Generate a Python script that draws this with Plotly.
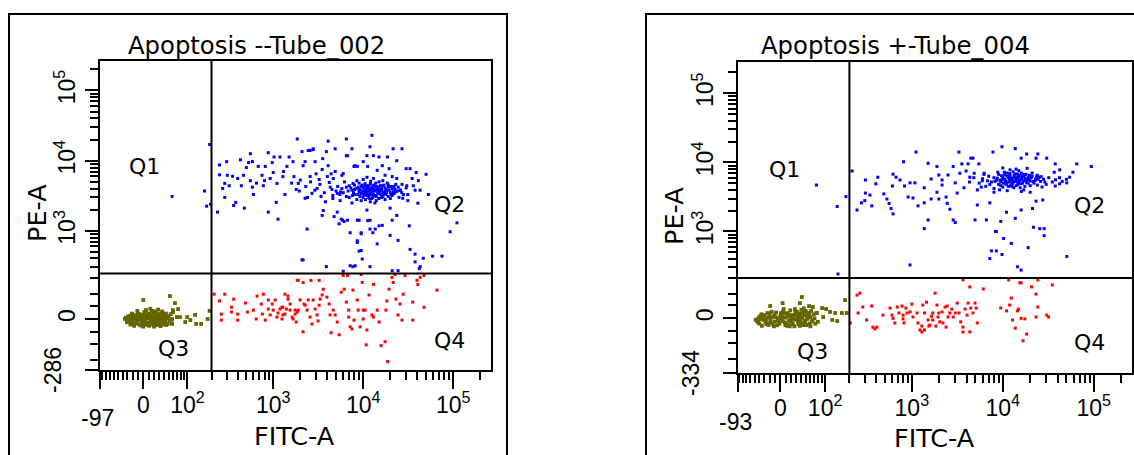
import numpy as np
import plotly.graph_objects as go

# ---------------- data (FITC-A, PE-A) ----------------
TITLES = ["Apoptosis --Tube_002", "Apoptosis +-Tube_004"]
X_MIN = [-97, -93]            # axis minimum labels
Y_MIN = [-286, -334]
GATE_FITC = [200, 200]        # quadrant gate positions
GATE_PE = [235, 199]
QUADS = ["Q1", "Q2", "Q3", "Q4"]

X_MAJOR = [0, 1e2, 1e3, 1e4, 1e5]
X_MAJOR_TEXT = ["0", "10<sup>2</sup>", "10<sup>3</sup>", "10<sup>4</sup>", "10<sup>5</sup>"]
Y_MAJOR = [0, 1e3, 1e4, 1e5]
Y_MAJOR_TEXT = ["0", "10<sup>3</sup>", "10<sup>4</sup>", "10<sup>5</sup>"]
X_MINOR = ([-k * 10 for k in range(1, 10)] + [k * 10 for k in range(1, 10)] +
           [k * 100 for k in range(2, 10)] + [k * 1000 for k in range(2, 10)] +
           [k * 10000 for k in range(2, 10)] + [200000])
Y_MINOR = ([-50, -100, -200, 50] + [k * 100 for k in range(1, 10)] +
           [k * 1000 for k in range(2, 10)] + [k * 10000 for k in range(2, 10)] + [200000])

# left panel (Tube_002)
L_OLIVE = [(-30,0),(-28,10),(-25,-10),(-22,5),(-20,-18),(-18,15),(-15,0),(-12,-8),(-10,20),(-8,-20),
           (-5,8),(-3,-12),(0,0),(2,25),(4,-5),(6,12),(8,-22),(10,3),(12,18),(14,-10),(16,30),(18,-2),
           (20,10),(22,-15),(24,22),(26,5),(28,-8),(30,15),(32,-20),(34,0),(36,28),(38,-5),(40,10),
           (42,-12),(44,20),(46,3),(48,-18),(50,8),(-26,-5),(-21,20),(-17,-25),(-13,8),(-6,-2),(-1,15),
           (3,-15),(7,5),(11,-25),(15,12),(19,24),(23,-4),(27,18),(31,-14),(35,7),(39,20),(43,-6),
           (-33,5),(-31,-12),(-24,-20),(-19,2),(-14,-16),(-9,12),(-4,-24),(1,8),(5,33),(9,-14),(13,0),
           (17,-20),(21,28),(25,-22),(29,2),(33,-26),(37,12),(41,-3),(45,14),(52,-5),(55,18),(58,0),
           (-11,30),(0,-28),(13,38),(28,35),(45,-22),(20,-28),(-35,0),(60,25),(57,-15),
           (-29,-6),(-27,4),(-23,-12),(-16,10),(-7,18),(-2,-6),(6,-20),(9,20),(14,6),(18,-12),(24,-8),
           (30,4),(35,-10),(40,-20),(47,10),(-20,-8),(-10,-3),(3,2),(17,8),(26,-15),(33,18),(-24,12),
           (11,10),(38,3),(22,-6),
           (0,74),(53,92),(60,33),(73,37),(70,7),(78,7),(99,7),(93,-11),(109,-4),(126,15),(130,-18),
           (150,-18),(180,0),(190,30),(58,-18),(65,61)]
L_RED = [(215,101),(248,70),(260,18),(260,-4),(285,101),(340,44),(340,26),(360,78),(400,18),(400,-4),
         (490,61),(515,26),(600,33),(660,92),(645,0),(775,101),(735,57),(755,18),(815,-4),(880,74),
         (880,37),(925,15),(975,57),(1000,33),(1050,74),(1100,7),(1130,22),(1190,37),(1250,0),(1280,44),
         (1350,18),(1460,92),(1540,57),(1660,0),(1750,33),(1850,26),(1900,182),(2150,168),(2150,-48),
         (1990,74),(2200,57),(2380,33),(1850,182),(2630,182),(3240,182),(1350,101),(1460,78),(1250,44),
         (1400,37),(1280,15),(1540,33),(1620,7),(1750,18),(1800,-11),(1900,33),(2260,52),(2450,74),
         (2570,7),(2700,-18),(2780,74),(2920,37),(3070,15),(3150,-7),(3240,52),(3320,78),(3500,97),
         (3600,127),(3950,87),(4180,57),(4290,15),(4400,-52),(4650,33),(4880,15),(5150,-11),(5400,-60),
         (5700,111),(6000,219),(6150,127),(6500,65),(6700,219),(6900,33),(6900,7),(7160,-29),(7500,-37),
         (7700,122),(7900,-4),(8600,74),(8800,33),(9250,-29),(9500,227),(9750,168),(10000,0),(10000,33),
         (10500,33),(10800,-106),(11000,-41),(11600,97),(12500,15),(13000,155),(13000,7),(14300,33),
         (15000,-11),(15800,-110),(17500,-91),(17900,33),(18300,70),(18700,-211),(19400,127),(20900,204),
         (21500,168),(22600,227),(23100,78),(24400,15),(25700,57),(27000,-4),(27800,101),(29200,219),
         (35500,65),(35500,-4),(39600,182),(40500,155),(42900,204),(47500,219),(47500,44),(66000,122)]
L_BLUE = [(190,17000),(165,3700),(175,2250),(195,2400),(58,3100),
          (235,1850),(248,8700),(248,6300),(300,9700),(285,4750),(270,4030),(285,3000),(305,6200),
          (320,4400),(350,6000),(360,2300),(380,2550),(400,5580),(430,10300),(440,4400),(465,6200),
          (475,2110),(500,8000),(530,9400),(555,12600),(585,9700),(585,4200),(555,5200),(600,3300),
          (680,8300),(750,6200),(775,4400),(815,8300),(880,1850),(880,13000),(925,5580),(975,9400),
          (1020,11300),(1100,4750),(1130,1470),(1080,2550),(1190,11300),(1280,5950),(1350,3300),
          (1420,8300),(1500,11300),(1660,9700),(1700,5950),(1850,20400),(1900,4750),(1950,3700),
          (2090,13500),(2150,8500),(2090,380),(2260,2920),(2380,1060),(2450,14000),(2570,5950),
          (2700,3430),(2780,14400),(2920,9700),(3070,4030),(3240,5400),(3400,3100),(3500,1660),
          (3600,1950),(3900,13500),(4080,8500),(4080,19000),(4500,3900),(4650,5580),(4880,14800),
          (5150,3430),(5150,1850),(5540,2700),(5700,1470),(6000,6560),(6500,20400),(6500,11800),
          (6700,1420),(7160,940),(7500,14800),(7700,4750),(7900,8300),(8600,720),(8600,1420),(9000,510),
          (9500,940),(9750,390),(3900,300),(6000,255),(7160,310),(8140,310),(11000,11800),(11900,15800),
          (12500,23000),(11200,1400),(11900,1060),(13600,1060),(14300,650),(11900,300),
          (21500,14800),(27000,14800),(18600,11300),(15000,11300),(13000,11800),(8140,8500),(10000,9700),
          (16300,8500),(23600,10000),(19400,7710),(30000,7710),(33200,7710),(38800,6800),(50000,6400),
          (41000,5200),(37700,3800),(42900,3800),(31300,3300),(40500,2480),(31300,2700),(27500,2920),
          (23600,5580),(25700,3800),(19900,2110),(23600,1660),(21000,1420),(16300,1200),(15000,1180),
          (12800,940),(9500,910),(19900,860),(24400,730),(32500,1180),(8600,680),(9500,520),(33200,540),
          (37700,460),(46500,400),(59000,430),(75000,430),(92500,970),(110000,1300),(42000,280),
          (42900,300),(37700,354),(21000,260),(24400,260),(7700,300),(2150,380),(4750,1600),(5900,1420),
          (6150,1360),(5400,1260),(9000,1420),(11000,1980),(11900,1420),(2570,14000),(2780,14800),
          (2260,9700),(3550,10700),(4000,5950),(4880,7000),(5800,6200),(6700,11800),(8600,8300),
          (11200,8300),(14300,7300),(17500,6200),(21000,5950),(35000,5580),(36000,4400),(30500,4400),
          (53000,3300),
          (2300,4300),(2600,5000),(2900,3800),(3300,4600),(3700,3500),(4200,4900),(4600,2900),(5200,4300),
          (5600,3600),(6200,5000),(3000,6500),(3500,7500),(4400,6500),(1800,3900),(2000,5300),(1600,4800),
          (1300,7000),(1000,6800),(800,5200),(650,4800),(2400,3000),(3800,2600),
          (6000,3500),(6500,4200),(7000,3000),(7500,3800),(8000,4500),(8000,3300),(8500,2800),(9000,3900),
          (9000,4800),(9500,3400),(10000,4100),(10000,3000),(10500,3600),(11000,4400),(11000,3200),
          (11500,3900),(12000,3500),(12000,4700),(12500,2900),(13000,4000),(13000,3300),(13500,3700),
          (14000,4300),(14000,3100),(14500,3800),(15000,3400),(15000,5000),(16000,4000),(16000,3000),
          (17000,3600),(17000,4500),(18000,3300),(18000,3900),(19000,4200),(20000,3500),(20000,2900),
          (21000,4000),(22000,3400),(23000,4600),(24000,3700),(10000,5400),(11000,5800),(12000,2600),
          (9500,2700),(8500,5200),(7500,2500),(13000,5600),(14000,2700),(15500,4400),(12500,4200),
          (11500,3000),(10500,4700),(9000,3600),(8000,3900),(7000,4400),(6500,3100),(5800,4000),
          (5500,3300),(5000,3700),(4600,3200),(4300,4200),(26000,3800),(28000,3300),(30000,4100),
          (27000,4600),(25000,3000),(19000,3100),(17500,2800),(16500,5200),(18500,4800),(21000,3200),
          (22000,4300),(23000,3600),(13500,2500),(12000,3800),(11000,3600),(10000,3700),(9500,4300),
          (12500,3400),(14500,3500),(16000,3700),(11500,4400),(10800,3300),(12800,3000),
          (6800,3700),(7300,4100),(7800,3500),(8300,4000),(8700,3300),(9300,3800),(9700,4500),(10200,3300),
          (10700,3900),(11200,4200),(11700,3300),(12200,4000),(12700,3600),(13200,4500),(13700,3200),
          (14200,3900),(14700,4200),(15200,3600),(15700,3300),(16200,4400),(16800,3400),(17400,4100),
          (18200,3600),(19500,3800),(20500,4300),(21500,3600),(22500,3900),(9900,3500),(11300,3700),
          (12300,3300),(13300,3800),(8800,4200),(10300,4300),(12900,4400),(15400,3900),(17800,3700),
          (19000,4500),(7600,3200),(14900,2900),(16600,3100),(11800,2900),(10600,2800),(9200,3100),
          (13800,4800),(12100,5100),(20600,3300),(24500,4200),(26800,3500)]

# right panel (Tube_004)
R_OLIVE = [(-45,-10),(-42,0),(-40,-20),(-38,8),(-35,-28),(-32,-5),(-30,12),(-28,-15),(-25,2),(-22,-25),
           (-20,18),(-18,-8),(-15,5),(-12,-30),(-10,-12),(-8,22),(-5,0),(-2,-20),(0,10),(2,-5),(5,28),
           (8,-15),(10,3),(12,-28),(14,15),(16,-8),(18,30),(20,0),(22,-18),(24,10),(26,-30),(28,22),
           (30,-5),(32,8),(34,-22),(36,18),(38,-10),(40,32),(42,2),(44,-25),(46,12),(48,-12),(50,25),
           (52,-3),(55,15),(58,-20),(60,5),(62,28),(65,-8),(68,15),(-36,15),(-26,-22),(-16,25),(-6,-26),
           (4,-10),(13,20),(23,-22),(33,-12),(43,20),(53,8),(-40,5),(-29,-3),(-19,-16),(-9,5),(1,20),
           (11,-18),(21,12),(31,25),(41,-18),(51,-25),(70,0),(72,-20),(75,20),(-48,-5),(6,35),(27,35),
           (45,38),(60,-30),(15,-25),
           (-43,-15),(-37,-3),(-33,10),(-27,-10),(-21,5),(-14,-20),(-11,12),(-4,-8),(3,5),(9,-25),
           (15,8),(19,-10),(25,-3),(29,15),(35,-5),(39,8),(47,-8),(54,2),(57,20),(63,-12),(-24,20),
           (7,18),(17,-30),(37,-28),(48,28),
           (41,86),(37,59),(57,47),(66,43),(76,20),(91,39),(94,5),(103,35),(116,24),(124,-6),(135,20),
           (143,-10),(163,20),(178,72),(186,20),(79,-13),(-19,47),(4,59)]
R_RED = [(205,-17),(245,95),(264,105),(252,20),(285,43),(315,-6),(360,47),(370,-33),(390,-40),(410,-33),
         (480,12),(575,39),(605,12),(620,0),(650,-17),(690,43),(720,20),(780,47),(800,12),(820,-17),
         (885,20),(955,24),(1000,55),(1030,5),(1140,20),(1170,-17),(1230,-44),(1320,51),(1380,20),
         (1450,63),(1510,-6),(1580,-25),(1700,20),(1800,105),(1890,51),(1940,5),(2150,24),(2200,-17),
         (2450,47),(860,39),(800,-2),(1290,-29),(1290,-52),(1380,-44),(1540,-29),(1650,8),(1700,-6),
         (1840,-29),(1980,20),(2030,-13),(2320,43),(2380,-33),(2500,5),(2620,20),(2750,35),(2850,5),
         (3000,20),(3150,59),(3300,20),(3450,-13),(3650,185),(3650,-33),(3650,-52),(3850,35),(4050,12),
         (4150,59),(4340,139),(4340,-52),(4450,39),(4700,20),(4950,59),(5100,39),(5250,-17),(6100,127),
         (9500,39),(11000,28),(11600,185),(11900,51),(12400,81),(12800,-6),(13700,-37),(14500,28),
         (14900,35),(15900,165),(15900,0),(17500,-2),(18300,-61),(16700,-91),(20700,139),(23200,100),
         (23200,5),(24300,185),(24300,43),(30400,12),(31900,5),(35000,151),(15400,165)]
R_BLUE = [(75,4700),(143,2300),(182,3200),(146,231),
          (215,7500),(245,2050),(275,2600),(300,2800),(305,3600),(305,5560),(343,3370),(360,2350),
          (400,4900),(420,6100),(490,3500),(530,2950),(560,2550),(590,2150),(610,4550),(620,1800),
          (620,6750),(670,6100),(740,5560),(810,10200),(830,4550),(910,3150),(955,5050),(1030,3050),
          (1080,5050),(1110,14100),(1170,2350),(1370,4300),(1370,2600),(1370,1100),(1510,9700),
          (1510,1470),(1630,5750),(1630,2950),(1890,8700),(1890,3700),(1980,2950),(1980,6560),
          (2150,5560),(2150,4710),(2380,3150),(2450,2550),(2500,6560),(2620,2100),(2850,1470),
          (3000,1350),(2850,8700),(3000,5050),(3150,3600),(3300,14100),(3370,6950),(3550,9500),
          (3750,4300),(3950,7500),(4150,9500),(4340,6100),(4450,11500),(4700,11500),(4850,6950),
          (4950,1470),(5250,2420),(5250,3990),(5450,9500),(5950,5400),(6250,6950),(6600,1470),
          (7200,2600),(7200,400),(7500,520),(8500,520),(8500,1000),(9800,460),(9500,1400),(10200,790),
          (11000,1900),(12400,670),(13700,1550),(14500,300),(955,320),
          (9800,16800),(13700,15800),(7800,14100),(18300,13200),(24300,13200),(15900,11500),
          (23200,11500),(30400,11500),(37700,9500),(65000,9500),(94000,8700),(59000,7200),(54300,6100),
          (42200,7800),(36800,7200),(50500,5050),(42200,4900),(37700,4550),(27500,2860),(23200,2750),
          (21200,2150),(15900,2050),(21700,1150),(25500,1100),(28500,1100),(28500,870),(8300,1000),
          (19000,580),(50500,430),(15900,266),
          (5500,5000),(6000,5800),(6500,4500),(7000,6300),(7500,5200),(8000,4200),(8000,6000),(8500,5500),
          (9000,4800),(9000,6700),(9500,5200),(10000,4400),(10000,6100),(10500,5700),(11000,5000),
          (11000,7000),(11500,4500),(11500,6000),(12000,5400),(12000,6500),(12500,4800),(12500,5900),
          (13000,7300),(13000,5200),(13500,6200),(14000,4600),(14000,5600),(14500,6800),(15000,5100),
          (15000,6100),(15500,4300),(16000,5700),(16000,7000),(16500,5000),(17000,6300),(17500,4500),
          (18000,5500),(18000,6700),(19000,5000),(19000,6000),(20000,5400),(20000,4600),(21000,6300),
          (22000,5000),(23000,5800),(24000,4700),(25000,6100),(26000,5300),(28000,5700),(30000,4800),
          (32000,6000),(35000,5200),(10800,5300),(11800,5800),(12800,5600),(13800,6000),(14800,5400),
          (9800,5600),(10500,6600),(12200,4600),(13200,4300),(9200,4000),(8800,7200),(12000,7800),
          (15000,7600),(17000,4000),(7200,4800),(6800,5400),(6200,6700),(5800,4400),(21000,7000),
          (24000,6500),(27000,4400),(11200,3900),(16000,3800),(14000,8000),(18500,8200),(10000,8300),
          (20000,3700),(8000,3700),(4800,6000),(4300,5200),(38000,5600),(42000,6000),(45000,5300),
          (50000,5700),
          (8200,5300),(8700,5900),(9300,5500),(9700,6400),(10200,5000),(10700,5400),(11200,6300),
          (11700,5200),(12300,5900),(12800,5000),(13300,6400),(13800,5300),(14300,5900),(14800,6300),
          (15300,5500),(15800,4900),(16300,6100),(16900,5400),(17600,5900),(18300,5100),(19200,5600),
          (20500,6000),(21500,5300),(22800,5500),(24500,5700),(10900,4800),(11900,6900),(12600,4500),
          (13600,6800),(14600,4800),(15600,6500),(17200,6700),(19600,6500),(9500,4600),(10400,7200),
          (23500,6300),(26500,6200),(29000,5200)]

PANELS = [(L_OLIVE, L_RED, L_BLUE), (R_OLIVE, R_RED, R_BLUE)]
COLORS = ["#666600", "#ff0000", "#0000ff"]

# ---------------- biexponential-like display transform ----------------
LN10 = np.log(10.0)
CX, CY = 36.0, 55.7


def tx(v):
    v = np.asarray(v, dtype=float)
    return np.arcsinh(v / (2 * CX)) / LN10 + np.log10(CX)


def ty(v):
    v = np.asarray(v, dtype=float)
    return np.arcsinh(v / (2 * CY)) / LN10 + np.log10(CY)


W, H = 1134, 455
X_DOM = [(100 / W, 491 / W), (738 / W, 1132 / W)]
Y_DOM = [(1 - 370 / H, 1 - 61 / H), (1 - 373 / H, 1 - 62 / H)]
X_TOP = [5.42, 5.42]
Y_TOP = [5.42, 5.45]

fig = go.Figure()
TICKFONT = dict(family="Liberation Sans Narrow, Liberation Sans, Arial", size=23, color="black")
QFONT = dict(family="DejaVu Sans", size=22, color="black")
TITLEFONT = dict(family="DejaVu Sans", size=24.3, color="black")
AXFONT = dict(family="DejaVu Sans", size=25.5, color="black")

annotations = []
shapes = []
for i, pops in enumerate(PANELS):
    xa = "x" if i == 0 else "x2"
    ya = "y" if i == 0 else "y2"
    for pts, col in zip(pops, COLORS):
        arr = np.array(pts, dtype=float)
        fig.add_trace(go.Scatter(
            x=tx(arr[:, 0]), y=ty(arr[:, 1]), mode="markers", xaxis=xa, yaxis=ya,
            marker=dict(color=col, symbol="square", size=3.8 if col == COLORS[0] else 3.0,
                        line=dict(width=0)),
            hoverinfo="skip", showlegend=False))

    sfx = "" if i == 0 else "2"
    axis_common = dict(showline=True, linecolor="black", linewidth=2, mirror=True,
                       ticks="outside", tickcolor="black", tickwidth=2, showgrid=False,
                       zeroline=False, tickfont=TICKFONT, fixedrange=True)
    fig.update_layout(**{
        "xaxis" + sfx: dict(axis_common, domain=list(X_DOM[i]), anchor=ya,
                            range=[float(tx(X_MIN[i])), X_TOP[i]],
                            tickmode="array",
                            tickvals=[float(v) for v in tx([X_MIN[i]] + X_MAJOR)],
                            ticktext=[""] + X_MAJOR_TEXT, ticklen=17, ticklabelstandoff=-4,
                            minor=dict(tickmode="array", tickvals=[float(v) for v in tx(X_MINOR)],
                                       ticks="outside", ticklen=8, tickwidth=1.5, tickcolor="black")),
        "yaxis" + sfx: dict(axis_common, domain=list(Y_DOM[i]), anchor=xa,
                            range=[float(ty(Y_MIN[i])), Y_TOP[i]],
                            tickmode="array",
                            tickvals=[float(v) for v in ty([Y_MIN[i]] + Y_MAJOR)],
                            ticktext=[""] + Y_MAJOR_TEXT, ticklen=13, tickangle=-90,
                            ticklabelstandoff=1,
                            minor=dict(tickmode="array", tickvals=[float(v) for v in ty(Y_MINOR)],
                                       ticks="outside", ticklen=8, tickwidth=1.5, tickcolor="black")),
    })

    # quadrant gates
    shapes.append(dict(type="line", xref=xa, yref=ya + " domain", x0=float(tx(GATE_FITC[i])),
                       x1=float(tx(GATE_FITC[i])), y0=0, y1=1, line=dict(color="black", width=2)))
    shapes.append(dict(type="line", xref=xa + " domain", yref=ya, y0=float(ty(GATE_PE[i])),
                       y1=float(ty(GATE_PE[i])), x0=0, x1=1, line=dict(color="black", width=2)))

    # quadrant labels
    qpos = [[(0.115, 0.657), (0.893, 0.534), (0.187, 0.068), (0.893, 0.097)],
            [(0.117, 0.653), (0.892, 0.537), (0.188, 0.068), (0.892, 0.099)]][i]
    for q, (qx, qy) in zip(QUADS, qpos):
        annotations.append(dict(text=q, xref=xa + " domain", yref=ya + " domain", x=qx, y=qy,
                                showarrow=False, font=QFONT, xanchor="center", yanchor="middle"))

    # title and axis titles
    tpos = [(256, 46), (895, 46)][i]
    annotations.append(dict(text=TITLES[i], xref="paper", yref="paper", x=tpos[0] / W,
                            y=1 - tpos[1] / H, showarrow=False, font=TITLEFONT,
                            xanchor="center", yanchor="middle"))
    fpos = [(294, 436), (934, 438)][i]
    annotations.append(dict(text="FITC-A", xref="paper", yref="paper", x=fpos[0] / W,
                            y=1 - fpos[1] / H, showarrow=False, font=AXFONT,
                            xanchor="center", yanchor="middle"))
    ppos = [(37, 213), (674, 216)][i]
    annotations.append(dict(text="PE-A", xref="paper", yref="paper", x=ppos[0] / W,
                            y=1 - ppos[1] / H, showarrow=False, font=AXFONT, textangle=-90,
                            xanchor="center", yanchor="middle"))
    # axis minimum labels (staggered)
    mx = [418, 422][i]
    annotations.append(dict(text=str(X_MIN[i]), xref=xa, yref="paper", x=float(tx(X_MIN[i])),
                            y=1 - mx / H, showarrow=False, font=TICKFONT, xshift=-3,
                            xanchor="center", yanchor="middle"))
    my = [53, 691][i]
    annotations.append(dict(text=str(Y_MIN[i]), xref="paper", yref=ya, x=my / W,
                            y=float(ty(Y_MIN[i])), showarrow=False, font=TICKFONT, textangle=-90,
                            xanchor="center", yanchor="middle"))

# outer frames of the two panels
shapes.append(dict(type="rect", xref="paper", yref="paper", x0=9 / W, x1=507 / W, y0=-0.05,
                   y1=1 - 14 / H, line=dict(color="black", width=2), layer="below"))
shapes.append(dict(type="rect", xref="paper", yref="paper", x0=646 / W, x1=1.05, y0=-0.05,
                   y1=1 - 14 / H, line=dict(color="black", width=2), layer="below"))

fig.update_layout(width=W, height=H, margin=dict(l=0, r=0, t=0, b=0),
                  plot_bgcolor="white", paper_bgcolor="white", showlegend=False,
                  annotations=annotations, shapes=shapes)

fig.write_html("out.html", config={"displayModeBar": False},
               post_script="document.body.style.margin='0px';")
